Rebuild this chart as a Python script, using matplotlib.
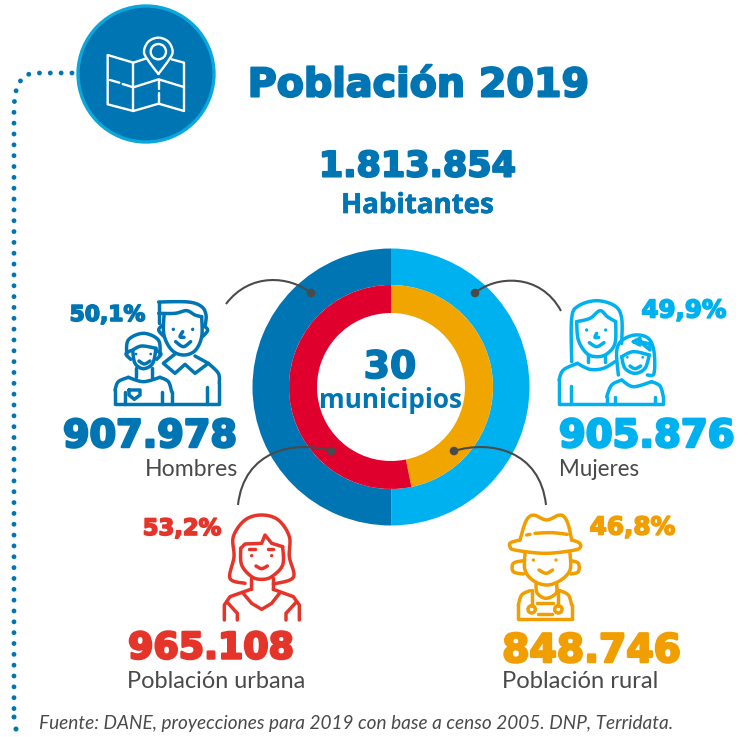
import matplotlib
matplotlib.use('Agg')
import matplotlib.pyplot as plt
import numpy as np
from matplotlib.path import Path
from matplotlib.patches import PathPatch, Circle
import matplotlib.patheffects as pe

# Data
hombres_mujeres = [905876, 907978]   # clockwise from the top
rural_urbana = [848746, 965108]
title = 'Población 2019'
total = '1.813.854'
n_municipios = '30'
labels = ['Hombres', 'Mujeres', 'Población urbana', 'Población rural']
values = ['907.978', '905.876', '965.108', '848.746']
shares = ['50,1%', '49,9%', '53,2%', '46,8%']
source = 'Fuente: DANE, proyecciones para 2019 con base a censo 2005. DNP, Terridata.'

BLUE = '#0075B4'
SKY = '#00B1F0'
CRIMSON = '#DF002D'
AMBER = '#F0A500'
RED = '#E5352A'
ORANGE = '#F09E00'
GREY = '#4A4A4A'

W, H = 755, 737
fig = plt.figure(figsize=(W / 100, H / 100), dpi=100, facecolor='white')
ax = fig.add_axes([0, 0, 1, 1])
ax.set_xlim(0, W)
ax.set_ylim(H, 0)
ax.axis('off')

# Donut, in its own axes so that pie keeps its normal orientation
cx, cy, box = 391, 387, 150
pie_ax = fig.add_axes([(cx - box) / W, 1 - (cy + box) / H, 2 * box / W, 2 * box / H])
pie_ax.pie(hombres_mujeres, radius=138.5, startangle=90, counterclock=False,
           colors=[SKY, BLUE], wedgeprops=dict(width=36.5, linewidth=0))
pie_ax.pie(rural_urbana, radius=102, startangle=90, counterclock=False,
           colors=[AMBER, CRIMSON], wedgeprops=dict(width=28, linewidth=0))
pie_ax.set_xlim(-box, box)
pie_ax.set_ylim(-box, box)
pie_ax.set_zorder(1)
ax.set_zorder(2)
ax.patch.set_alpha(0)


def smooth(pts, n=12):
    # catmull-rom through the icon's outline points
    p = np.array(pts, dtype=float)
    p = np.vstack([p[0], p, p[-1]])
    out = []
    for i in range(1, len(p) - 2):
        for t in np.linspace(0, 1, n, endpoint=False):
            out.append(0.5 * (2 * p[i] + (p[i + 1] - p[i - 1]) * t
                              + (2 * p[i - 1] - 5 * p[i] + 4 * p[i + 1] - p[i + 2]) * t ** 2
                              + (3 * p[i] - p[i - 1] - 3 * p[i + 1] + p[i + 2]) * t ** 3))
    out.append(p[-2])
    return np.array(out)


class Icon:
    # icon drawing in coordinates of a 3x crop, offset to the page
    def __init__(self, ox, oy, color, lw=2.5):
        self.ox, self.oy, self.color, self.lw = ox, oy, color, lw

    def line(self, *pts):
        p = np.array(pts, dtype=float) / 3
        ax.plot(p[:, 0] + self.ox, p[:, 1] + self.oy, color=self.color, lw=self.lw,
                solid_capstyle='round', solid_joinstyle='round', zorder=5)

    def curve(self, *pts):
        self.line(*smooth(pts))

    def dots(self, *pts, r=5):
        for x, y in pts:
            ax.add_patch(Circle((self.ox + x / 3, self.oy + y / 3), r / 3, color=self.color,
                                lw=0, zorder=5))

    def ring(self, x, y, r):
        ax.add_patch(Circle((self.ox + x / 3, self.oy + y / 3), r / 3, fc='none',
                            ec=self.color, lw=self.lw, zorder=5))


# Dotted line running down from the map badge
dotted = Path([(72, 73), (36, 73), (14, 73), (14, 110), (14, 711)],
              [Path.MOVETO, Path.LINETO, Path.CURVE3, Path.CURVE3, Path.LINETO])
ax.add_patch(PathPatch(dotted, fc='none', ec=BLUE, lw=3.5, capstyle='round',
                       linestyle=(0, (0.01, 2.22)), zorder=3))
ax.add_patch(Circle((14, 717), 2.5, color=BLUE, lw=0, zorder=3))
ax.add_patch(Circle((16, 729), 2.5, color=BLUE, lw=0, zorder=3))

# Map badge
ax.add_patch(Circle((146, 74), 68, fc=BLUE, ec='#0BA6DB', lw=2.4, zorder=4))
m = Icon(0, 0, 'white', lw=1.7)
m.line((437, 176), (400, 188), (323, 165), (323, 313), (400, 333), (476, 311), (552, 333),
       (552, 188), (515, 178))
m.line((400, 188), (400, 333))
m.line((330, 240), (358, 248))
m.line((368, 252), (400, 262), (476, 238), (548, 260))
m.line((476, 240), (476, 268))
m.line((476, 280), (476, 311))
m.curve((475, 222), (445, 182), (432, 155), (445, 125), (475, 113), (505, 125), (518, 155),
        (505, 182), (475, 222))
m.ring(475, 155, 23)

# Hombres icon
h = Icon(60, 280, BLUE)
h.curve((296, 130), (296, 66))
h.curve((296, 66), (385, 66), (425, 80), (438, 105), (436, 135))
h.curve((296, 100), (345, 100), (380, 92), (405, 105), (425, 110))
h.curve((312, 105), (312, 165), (335, 210), (370, 225), (405, 212), (425, 170), (425, 110))
h.curve((308, 135), (296, 150), (310, 168))
h.curve((428, 135), (443, 150), (428, 170))
h.dots((340, 148), (398, 148))
h.curve((368, 155), (360, 170), (372, 172))
h.curve((347, 185), (370, 200), (392, 185))
h.line((345, 222), (310, 250), (345, 280), (375, 253), (405, 280), (445, 250), (405, 228))
h.curve((445, 250), (475, 280), (478, 310))
h.line((478, 310), (478, 372), (165, 372), (165, 330))
h.line((440, 320), (440, 372))
h.curve((200, 225), (205, 180), (250, 160), (295, 180), (300, 225))
h.curve((218, 210), (225, 250), (250, 266), (278, 250), (288, 205))
h.curve((218, 210), (245, 198), (288, 205))
h.curve((212, 212), (198, 222), (212, 238))
h.curve((290, 212), (303, 222), (290, 238))
h.dots((228, 222), (272, 222), r=4)
h.curve((237, 243), (253, 252), (270, 243))
h.curve((205, 292), (250, 305), (300, 292))
h.line((228, 265), (228, 290))
h.line((275, 265), (275, 290))
h.curve((205, 292), (175, 305), (165, 330))
h.curve((300, 292), (325, 305), (335, 335))
h.line((335, 335), (335, 372))
h.line((195, 335), (195, 372))
h.line((307, 335), (307, 372))
h.line((207, 330), (240, 330), (240, 345), (223, 358), (207, 345), (207, 330))

# Mujeres icon
w = Icon(550, 280, SKY)
w.curve((65, 245), (65, 115), (85, 78), (140, 62), (195, 78), (215, 115), (215, 190))
w.curve((80, 125), (120, 115), (150, 92), (172, 110), (197, 125))
w.curve((80, 125), (85, 180), (110, 220), (140, 230), (170, 222), (195, 190), (197, 125))
w.dots((110, 150), (167, 150))
w.curve((140, 160), (135, 172), (146, 172))
w.curve((118, 188), (140, 200), (162, 188))
w.curve((82, 250), (120, 268), (160, 265), (195, 245))
w.line((115, 225), (115, 245))
w.line((165, 225), (165, 245))
w.curve((82, 250), (40, 270), (27, 300))
w.line((27, 300), (27, 372), (340, 372), (340, 350))
w.line((63, 318), (63, 372))
w.curve((205, 285), (200, 215), (215, 182), (255, 165), (295, 175), (312, 215), (312, 280),
        (292, 285))
w.curve((215, 230), (225, 265), (255, 280), (285, 265), (298, 225))
w.curve((215, 230), (250, 215), (298, 225))
w.line((250, 185), (270, 175), (270, 195), (250, 185))
w.line((270, 185), (300, 192), (300, 210), (270, 185))
w.dots((232, 232), (278, 232), r=4)
w.curve((240, 258), (255, 266), (272, 258))
w.curve((215, 300), (250, 320), (305, 305))
w.curve((215, 300), (185, 315), (170, 350))
w.line((170, 350), (170, 372))
w.curve((305, 305), (330, 318), (340, 350))
w.line((195, 350), (195, 372))
w.line((315, 350), (315, 372))

# Poblacion urbana icon
u = Icon(130, 490, RED)
u.curve((345, 280), (300, 265), (312, 200), (310, 140), (345, 90), (395, 75), (445, 90),
        (478, 140), (478, 200), (490, 262), (430, 282))
u.curve((332, 175), (335, 225), (365, 260), (395, 268), (425, 260), (458, 225), (458, 170))
u.line((332, 175), (345, 162), (395, 160), (405, 135), (425, 160), (458, 170))
u.line((358, 177), (375, 177))
u.line((415, 177), (430, 177))
u.dots((365, 197), (425, 197))
u.curve((378, 228), (395, 236), (412, 228))
u.line((362, 265), (362, 298))
u.line((430, 265), (430, 298))
u.line((362, 298), (300, 320), (283, 345), (283, 390))
u.line((430, 298), (490, 320), (508, 345), (508, 390))
u.line((338, 308), (365, 340), (395, 358), (425, 340), (450, 308))
u.line((290, 335), (322, 370), (322, 390))
u.line((500, 335), (468, 370), (468, 390))

# Poblacion rural icon
r = Icon(490, 490, ORANGE)
r.curve((90, 150), (105, 100), (118, 80), (135, 76), (170, 90), (205, 76), (222, 80), (235, 105),
        (245, 150))
r.line((110, 135), (120, 133))
r.curve((135, 130), (185, 128), (232, 133))
r.curve((90, 150), (62, 158), (60, 170), (75, 180), (165, 190), (255, 180), (272, 168), (265, 157),
        (245, 150))
r.curve((105, 190), (105, 240), (130, 272), (170, 285), (210, 272), (240, 240), (240, 190))
r.curve((100, 212), (70, 220), (70, 245), (100, 252))
r.curve((243, 212), (265, 220), (265, 245), (243, 252))
r.dots((130, 210), (198, 210))
r.curve((147, 240), (168, 250), (188, 240))
r.curve((138, 283), (142, 310), (168, 325), (198, 310), (200, 283))
r.curve((120, 302), (95, 315), (85, 345))
r.line((85, 345), (85, 388), (245, 388), (245, 345))
r.curve((210, 302), (235, 315), (245, 345))
r.line((125, 300), (125, 347))
r.line((205, 300), (205, 347))
r.ring(125, 358, 11)
r.ring(205, 358, 11)
r.line((140, 340), (190, 340))
r.line((145, 372), (185, 372))

# Connectors from the rings to the icons
links = [[(226, 304), (250, 272), (290, 276), (311, 293)],
         [(561, 311), (540, 272), (495, 276), (475, 293)],
         [(238, 505), (244, 450), (295, 440), (331, 451)],
         [(546, 505), (540, 450), (490, 440), (454, 451)]]
for a, b, c, d in links:
    ax.add_patch(PathPatch(Path([a, b, c, d], [Path.MOVETO, Path.CURVE4, Path.CURVE4, Path.CURVE4]),
                           fc='none', ec=GREY, lw=1.5, zorder=6))
    ax.add_patch(Circle(d, 4.3, color=GREY, lw=0, zorder=6))

fig.canvas.draw()
renderer = fig.canvas.get_renderer()


def put(text, x0, x1, yc, color, fs=20, heavy=0.0, **kw):
    # text scaled to span x0..x1 in pixels
    t = ax.text((x0 + x1) / 2, yc, text, color=color, ha='center', va='center_baseline',
                fontsize=fs, zorder=7, **kw)
    t.set_fontsize(fs * (x1 - x0 - heavy) / t.get_window_extent(renderer).width)
    if heavy:
        t.set_path_effects([pe.withStroke(linewidth=heavy, foreground=color)])
    return t


bold = dict(family='DejaVu Sans', fontweight='bold')
put(title, 247, 590, 81, BLUE, heavy=1.5, **bold)
put(total, 318, 517, 163, BLUE, heavy=1.5, **bold)
put('Habitantes', 341, 494, 202, BLUE, family='Open Sans', fontweight='bold', heavy=0.5)
put(n_municipios, 363, 417, 364, BLUE, heavy=1.2, **bold)
put('municipios', 319, 462, 397, BLUE, family='Open Sans', fontweight='bold')

put(shares[0], 69, 146, 313, BLUE, heavy=1.2, **bold)
put(shares[1], 641, 727, 308, SKY, heavy=1.2, **bold)
put(shares[2], 142, 222, 526, RED, heavy=1.2, **bold)
put(shares[3], 589, 676, 525, ORANGE, heavy=1.2, **bold)

put(values[0], 62, 238, 433, BLUE, heavy=1.8, **bold)
put(values[1], 558, 736, 432, SKY, heavy=1.8, **bold)
put(values[2], 127, 295, 645, RED, heavy=1.8, **bold)
put(values[3], 501, 682, 647, ORANGE, heavy=1.8, **bold)

put(labels[0], 145, 238, 467, GREY, family='Lato')
put(labels[1], 559, 640, 467, GREY, family='Lato')
put(labels[2], 127, 306, 680, GREY, family='Lato')
put(labels[3], 502, 659, 680, GREY, family='Lato')

put(source, 40, 672, 722, GREY, family='Lato', style='italic')

fig.savefig('out.png', dpi=100, facecolor='white')
